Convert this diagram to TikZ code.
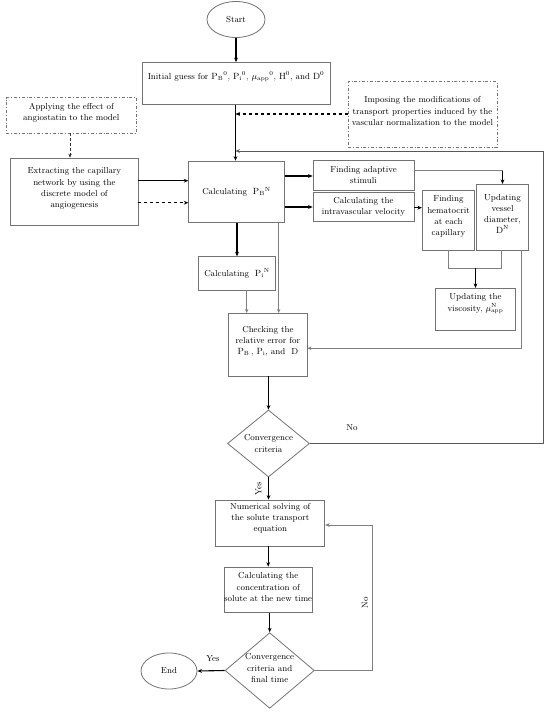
\documentclass[tikz,border=0pt]{standalone}
\usetikzlibrary{shapes.geometric,arrows.meta}
\begin{document}
\begin{tikzpicture}[x=1pt,y=-1pt,
  every node/.style={font=\fontsize{8.7}{11.2}\selectfont, align=center, inner sep=1pt},
  box/.style={draw=black!55, line width=0.8pt, rectangle},
  dbox/.style={draw=black!55, line width=0.7pt, dash dot, rectangle},
  txt/.style={inner sep=0pt},
  arr/.style={draw=black, line width=1.1pt, -{Stealth[length=4.5pt,width=3.8pt]}},
  darr/.style={draw=black, line width=1.1pt, dashed, -{Stealth[length=4.5pt,width=3.8pt]}},
  farr/.style={draw=black!80, line width=0.6pt, densely dashed, -{Stealth[length=4pt,width=3.5pt]}},
  tarr/.style={draw=black!50, line width=0.6pt, -{Stealth[length=4pt,width=3.5pt]}},
  tline/.style={draw=black!50, line width=0.6pt},
  loop/.style={draw=black!65, line width=0.9pt, -{Stealth[length=4.5pt,width=3.8pt]}}]
\fill[white] (0,0) rectangle (550,714);
\useasboundingbox (0,0) rectangle (550,714);

% nodes
\node[box, ellipse, minimum width=58pt, minimum height=36pt] (start) at (236,19.5) {Start};
\node[box, minimum width=188pt, minimum height=42pt] (init) at (236,83.5) {};
\node[txt] (initt) at (236,77) {Initial guess for $\mathrm{P_B}{}^{0}$, $\mathrm{P_i}{}^{0}$, $\mu_{\mathrm{app}}{}^{0}$, $\mathrm{H}^{0}$, and $\mathrm{D}^{0}$};

\node[dbox, minimum width=130pt, minimum height=35.5pt] (angio) at (71.3,115.3) {};
\node[txt] (angiot) at (71.3,112.5) {Applying the effect of\\angiostatin to the model};

\node[dbox, minimum width=149pt, minimum height=65.5pt] (impose) at (422.5,114.5) {};
\node[txt] (imposet) at (422.5,111) {Imposing the modifications of\\transport properties induced by the\\vascular normalization to the model};

\node[box, minimum width=127.3pt, minimum height=67.7pt] (extract) at (74.4,191.9) {};
\node[txt] (extractt) at (74.4,188.5) {Extracting the capillary\\network by using the\\discrete model of\\angiogenesis};

\node[box, minimum width=95.6pt, minimum height=61.7pt] (calcB) at (236.5,191.9) {Calculating\ \ $\mathrm{P_B}{}^{\mathrm N}$};

\node[box, minimum width=101pt, minimum height=29.3pt] (stim) at (363.5,175.4) {Finding adaptive\\stimuli};
\node[box, minimum width=101pt, minimum height=29pt] (vel) at (363.5,207.2) {Calculating the\\intravascular velocity};

\node[box, minimum width=52.4pt, minimum height=60pt] (hema) at (448.5,220) {};
\node[txt] (hemat) at (448.5,216.5) {Finding\\hematocrit\\at each\\capillary};
\node[box, minimum width=51.6pt, minimum height=65.7pt] (diam) at (502.5,217.2) {};
\node[txt] (diamt) at (502.5,214) {Updating\\vessel\\diameter,\\$\mathrm{D}^{\mathrm N}$};

\node[box, minimum width=79.6pt, minimum height=41.7pt] (visc) at (475.5,309.2) {};
\node[txt] (visct) at (475.5,303.5) {Updating the\\[1pt]viscosity,\ $\mu^{\mathrm N}_{\mathrm{app}}$};

\node[box, minimum width=76.6pt, minimum height=33.3pt] (calcI) at (237,273.4) {Calculating\ \ $\mathrm{P_i}^{\mathrm N}$};

\node[box, minimum width=78.3pt, minimum height=62.7pt] (check) at (267.9,344.7) {};
\node[txt] (checkt) at (267.9,341.5) {Checking the\\relative error for\\$\mathrm{P_B}$\,, $\mathrm{P_i}$, and\ \ D};

\node[box, diamond, minimum width=82pt, minimum height=67pt, inner sep=0pt] (dia1) at (268.5,443.5) {};
\node[txt] (dia1t) at (268.5,443.5) {Convergence\\criteria};

\node[box, minimum width=109pt, minimum height=46pt] (num) at (270.3,523) {};
\node[txt] (numt) at (270.3,518.5) {Numerical solving of\\the solute transport\\equation};

\node[box, minimum width=87.7pt, minimum height=45.5pt] (conc) at (268.2,589.8) {};
\node[txt] (conct) at (268.2,587) {Calculating the\\concentration of\\solute at the new time};

\node[box, diamond, minimum width=89.3pt, minimum height=75.6pt, inner sep=0pt] (dia2) at (269.7,670.5) {};
\node[txt] (dia2t) at (269.7,668) {Convergence\\criteria and\\final time};

\node[box, ellipse, minimum width=56pt, minimum height=36pt] (end) at (169,671) {End};

% coordinates
\coordinate (j1) at (235.5,114);
\coordinate (j2) at (235.5,151);
\coordinate (sd) at (502.5,170.7);
\coordinate (mh) at (448.5,268.3);
\coordinate (md) at (501,268.3);
\coordinate (mm) at (475.5,268.3);
\coordinate (dc) at (521.7,348.3);
\coordinate (n1) at (543.3,443.5);
\coordinate (n2) at (543.3,151);
\coordinate (m1) at (372,670.5);
\coordinate (m2) at (372,525);

% connectors
\draw[arr] (start.south) -- (start.south |- init.north);
\draw[draw=black, line width=1.1pt] (init.south -| j1) -- (j1);
\draw[arr] (j1) -- (j1 |- calcB.north);
\draw[darr] (impose.west |- j1) -- (j1);
\draw[loop] (dia1.east) -- (n1) -- (n2) -- (j2);
\draw[farr] (angio.south -| 70,0) -- (extract.north -| 70,0);
\draw[arr] (extract.east |- 0,180.7) -- (calcB.west |- 0,180.7);
\draw[darr] (extract.east |- 0,202.7) -- (calcB.west |- 0,202.7);
\draw[arr] (calcB.east |- 0,176) -- (stim.west |- 0,176);
\draw[arr] (calcB.east |- 0,207) -- (vel.west |- 0,207);
\draw[arr] (vel.east |- 0,207.7) -- (hema.west |- 0,207.7);
\draw[tline] (stim.east |- sd) -- (sd);
\draw[arr] (sd) -- (diam.north);
\draw[tline] (hema.south -| mh) -- (mh) -- (md) -- (diam.south -| md);
\draw[arr] (mm) -- (visc.north);
\draw[arr] (calcB.south -| calcI.north) -- (calcI.north);
\draw[tarr] (calcI.south -| 246.7,0) -- (check.north -| 246.7,0);
\draw[tarr] (calcB.south -| 278.7,0) -- (check.north -| 278.7,0);
\draw[tarr] (diam.south -| dc) -- (dc) -- (check.east |- dc);
\draw[arr] (check.south -| dia1.north) -- (dia1.north);
\draw[arr] (dia1.south) -- (dia1.south |- num.north);
\draw[arr] (num.south -| conc.north) -- (conc.north);
\draw[arr] (conc.south -| dia2.north) -- (dia2.north);
\draw[arr] (dia2.west) -- (end.east);
\draw[loop, draw=black!50, line width=0.6pt] (dia2.east) -- (m1) -- (m2) -- (num.east |- m2);

% labels
\node[txt] (no1) at (352,428) {No};
\node[txt, rotate=90] (yes1) at (258.5,489) {Yes};
\node[txt] (yes2) at (213,659) {Yes};
\node[txt, rotate=90] (no2) at (365,603) {No};
\end{tikzpicture}
\end{document}
